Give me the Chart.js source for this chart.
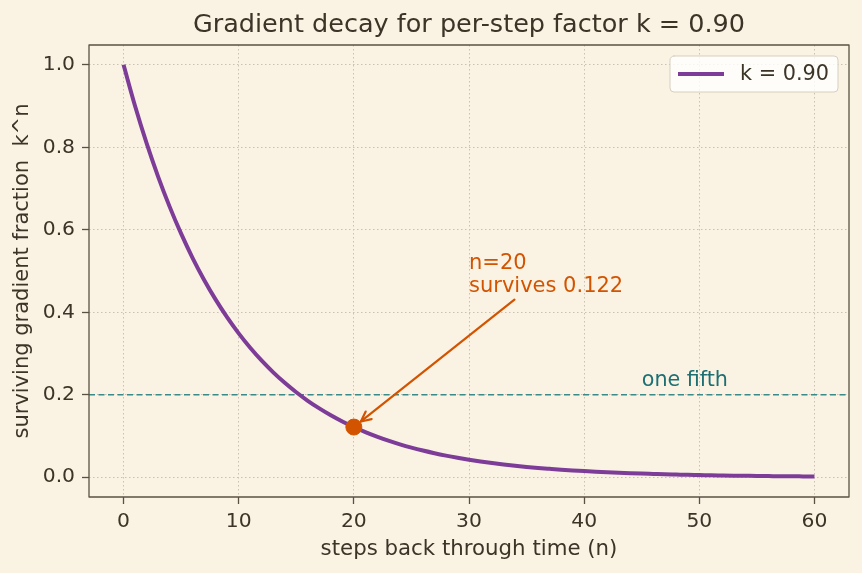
<!DOCTYPE html>
<html>
<head>
<meta charset="utf-8">
<script src="https://cdn.jsdelivr.net/npm/chart.js@4.4.1/dist/chart.umd.min.js"></script>
<style>
  html, body { margin: 0; padding: 0; background: #faf3e4; }
  #wrap { width: 862px; height: 573px; }
</style>
</head>
<body>
<div id="wrap"><canvas id="decayCanvas" width="862" height="573"></canvas></div>
<script>
  // steps back through time (n)
  const steps = [0, 1, 2, 3, 4, 5, 6, 7, 8, 9, 10, 11, 12, 13, 14, 15, 16, 17, 18, 19, 20,
    21, 22, 23, 24, 25, 26, 27, 28, 29, 30, 31, 32, 33, 34, 35, 36, 37, 38, 39, 40,
    41, 42, 43, 44, 45, 46, 47, 48, 49, 50, 51, 52, 53, 54, 55, 56, 57, 58, 59, 60];

  // surviving fraction k^n for k = 0.90
  const surviving = [1.0, 0.9, 0.81, 0.729, 0.6561, 0.5905, 0.5314, 0.4783, 0.4305, 0.3874, 0.3487,
    0.3138, 0.2824, 0.2542, 0.2288, 0.2059, 0.1853, 0.1668, 0.1501, 0.1351, 0.1216,
    0.1094, 0.0985, 0.0886, 0.0798, 0.0718, 0.0646, 0.0581, 0.0523, 0.0471, 0.0424,
    0.0382, 0.0343, 0.0309, 0.0278, 0.025, 0.0225, 0.0203, 0.0182, 0.0164, 0.0148,
    0.0133, 0.012, 0.0108, 0.0097, 0.0087, 0.0079, 0.0071, 0.0064, 0.0057, 0.0052,
    0.0046, 0.0042, 0.0038, 0.0034, 0.003, 0.0027, 0.0025, 0.0022, 0.002, 0.0018];

  const xTicks = [0, 10, 20, 30, 40, 50, 60];
  const yTicks = [0.0, 0.2, 0.4, 0.6, 0.8, 1.0];
  const xRange = [-3, 63];
  const yRange = [-0.048, 1.048];

  // marked step and threshold
  const markStep = [20];
  const markValue = [0.1216];
  const markLabel = ["n=20", "survives 0.122"];
  const markLabelAt = [30, 0.45];
  const threshold = [0.2];
  const thresholdLabel = "one fifth";
  const thresholdLabelAt = [45, 0.22];

  const seriesLabel = "k = 0.90";
  const chartTitle = "Gradient decay for per-step factor k = 0.90";

  const BG = "#faf3e4";
  const INK = "#3b3427";
  const PURPLE = "#7d3c98";
  const ORANGE = "#d35400";
  const TEAL = "#3a8a8a";
  const FONT = "'DejaVu Sans', sans-serif";

  const curvePoints = steps.map((n, i) => ({ x: n, y: surviving[i] }));
  const markPoints = markStep.map((n, i) => ({ x: n, y: markValue[i] }));
  const thresholdPoints = [{ x: xRange[0], y: threshold[0] }, { x: xRange[1], y: threshold[0] }];

  // background, frame, title, legend and annotations
  const decorations = {
    id: "decorations",
    beforeDraw(chart) {
      const ctx = chart.ctx;
      ctx.save();
      ctx.fillStyle = BG;
      ctx.fillRect(0, 0, chart.width, chart.height);
      ctx.restore();
    },
    afterDatasetsDraw(chart) {
      const ctx = chart.ctx;
      const area = chart.chartArea;
      const xs = chart.scales.x;
      const ys = chart.scales.y;
      ctx.save();

      // threshold label
      ctx.fillStyle = "#1d6f72";
      ctx.font = "20.7px " + FONT;
      ctx.textAlign = "left";
      ctx.textBaseline = "alphabetic";
      ctx.fillText(thresholdLabel, xs.getPixelForValue(thresholdLabelAt[0]), ys.getPixelForValue(thresholdLabelAt[1]));

      // annotation text (baseline of last line at the anchor)
      const tx = xs.getPixelForValue(markLabelAt[0]);
      const ty = ys.getPixelForValue(markLabelAt[1]);
      const lineH = 23;
      ctx.fillStyle = ORANGE;
      ctx.font = "21px " + FONT;
      markLabel.forEach((t, i) => {
        ctx.fillText(t, tx, ty - (markLabel.length - 1 - i) * lineH);
      });
      let w = 0;
      markLabel.forEach(t => { w = Math.max(w, ctx.measureText(t).width); });
      const boxTop = ty - (markLabel.length - 1) * lineH - 16;
      const boxBottom = ty + 5;
      const cx = tx + w / 2;
      const cy = (boxTop + boxBottom) / 2;

      // arrow from text box to the marked point
      const px = xs.getPixelForValue(markStep[0]);
      const py = ys.getPixelForValue(markValue[0]);
      const t0 = (boxBottom - cy) / (py - cy);
      let sx = cx + (px - cx) * t0;
      let sy = boxBottom;
      const dx = px - sx, dy = py - sy;
      const len = Math.hypot(dx, dy);
      const ux = dx / len, uy = dy / len;
      sx += ux * 5; sy += uy * 5;
      const ex = px - ux * 9, ey = py - uy * 9;
      ctx.strokeStyle = ORANGE;
      ctx.lineWidth = 2.2;
      ctx.lineCap = "round";
      ctx.lineJoin = "round";
      ctx.beginPath();
      ctx.moveTo(sx, sy);
      ctx.lineTo(ex, ey);
      ctx.stroke();
      const ah = 11, aw = 0.45;
      const ang = Math.atan2(uy, ux);
      ctx.beginPath();
      ctx.moveTo(ex - ah * Math.cos(ang - aw), ey - ah * Math.sin(ang - aw));
      ctx.lineTo(ex, ey);
      ctx.lineTo(ex - ah * Math.cos(ang + aw), ey - ah * Math.sin(ang + aw));
      ctx.stroke();

      // frame
      ctx.strokeStyle = "#5b5142";
      ctx.lineWidth = 1.3;
      ctx.strokeRect(area.left, area.top, area.right - area.left, area.bottom - area.top);

      // title
      ctx.fillStyle = INK;
      ctx.font = "25.5px " + FONT;
      ctx.textAlign = "center";
      ctx.textBaseline = "middle";
      ctx.fillText(chartTitle, (area.left + area.right) / 2, 25);

      // legend
      const lw = 168, lh = 36;
      const lx = area.right - 11 - lw;
      const ly = area.top + 11;
      ctx.fillStyle = "rgba(255,255,255,0.8)";
      ctx.strokeStyle = "#d6cfc0";
      ctx.lineWidth = 1;
      ctx.beginPath();
      ctx.roundRect(lx, ly, lw, lh, 4);
      ctx.fill();
      ctx.stroke();
      ctx.strokeStyle = PURPLE;
      ctx.lineWidth = 4;
      ctx.lineCap = "butt";
      ctx.beginPath();
      ctx.moveTo(lx + 8, ly + lh / 2);
      ctx.lineTo(lx + 54, ly + lh / 2);
      ctx.stroke();
      ctx.fillStyle = INK;
      ctx.font = "20.8px " + FONT;
      ctx.textAlign = "left";
      ctx.fillText(seriesLabel, lx + 70, ly + lh / 2 + 1);
      ctx.restore();
    }
  };

  const gridStyle = {
    color: "#c9c1b1",
    lineWidth: 1,
    tickColor: "#5b5142",
    tickLength: 7,
    tickWidth: 1.3
  };

  const decayChart = new Chart(document.getElementById("decayCanvas"), {
    type: "line",
    data: {
      datasets: [
        {
          label: "one fifth",
          data: thresholdPoints,
          borderColor: TEAL,
          borderWidth: 1.6,
          borderDash: [6, 3.5],
          pointRadius: 0,
          order: 3
        },
        {
          label: seriesLabel,
          data: curvePoints,
          borderColor: PURPLE,
          borderWidth: 4,
          pointRadius: 0,
          cubicInterpolationMode: "monotone",
          order: 2
        },
        {
          label: "marked",
          data: markPoints,
          showLine: false,
          pointRadius: 8,
          pointBackgroundColor: ORANGE,
          pointBorderColor: ORANGE,
          order: 1
        }
      ]
    },
    options: {
      responsive: false,
      animation: false,
      layout: { padding: { top: 45, right: 13, left: 0, bottom: 0 } },
      plugins: {
        legend: { display: false },
        tooltip: { enabled: false }
      },
      scales: {
        x: {
          type: "linear",
          min: xRange[0],
          max: xRange[1],
          afterBuildTicks: s => { s.ticks = xTicks.map(v => ({ value: v })); },
          afterFit: s => { s.height = 76; },
          grid: gridStyle,
          border: { display: false, dash: [1.5, 2.5] },
          ticks: { color: INK, font: { family: FONT, size: 20.3 }, padding: 6, maxRotation: 0 },
          title: {
            display: true,
            text: "steps back through time (n)",
            color: INK,
            font: { family: FONT, size: 21.3 },
            padding: { top: 0, bottom: 11 }
          }
        },
        y: {
          min: yRange[0],
          max: yRange[1],
          afterBuildTicks: s => { s.ticks = yTicks.map(v => ({ value: v })); },
          afterFit: s => { s.width = 89; },
          grid: gridStyle,
          border: { display: false, dash: [1.5, 2.5] },
          ticks: {
            color: INK,
            font: { family: FONT, size: 20.3 },
            padding: 7,
            callback: v => v.toFixed(1)
          },
          title: {
            display: true,
            text: "surviving gradient fraction  k^n",
            color: INK,
            font: { family: FONT, size: 21 },
            padding: { top: 10, bottom: 0 }
          }
        }
      }
    },
    plugins: [decorations]
  });
</script>
</body>
</html>
